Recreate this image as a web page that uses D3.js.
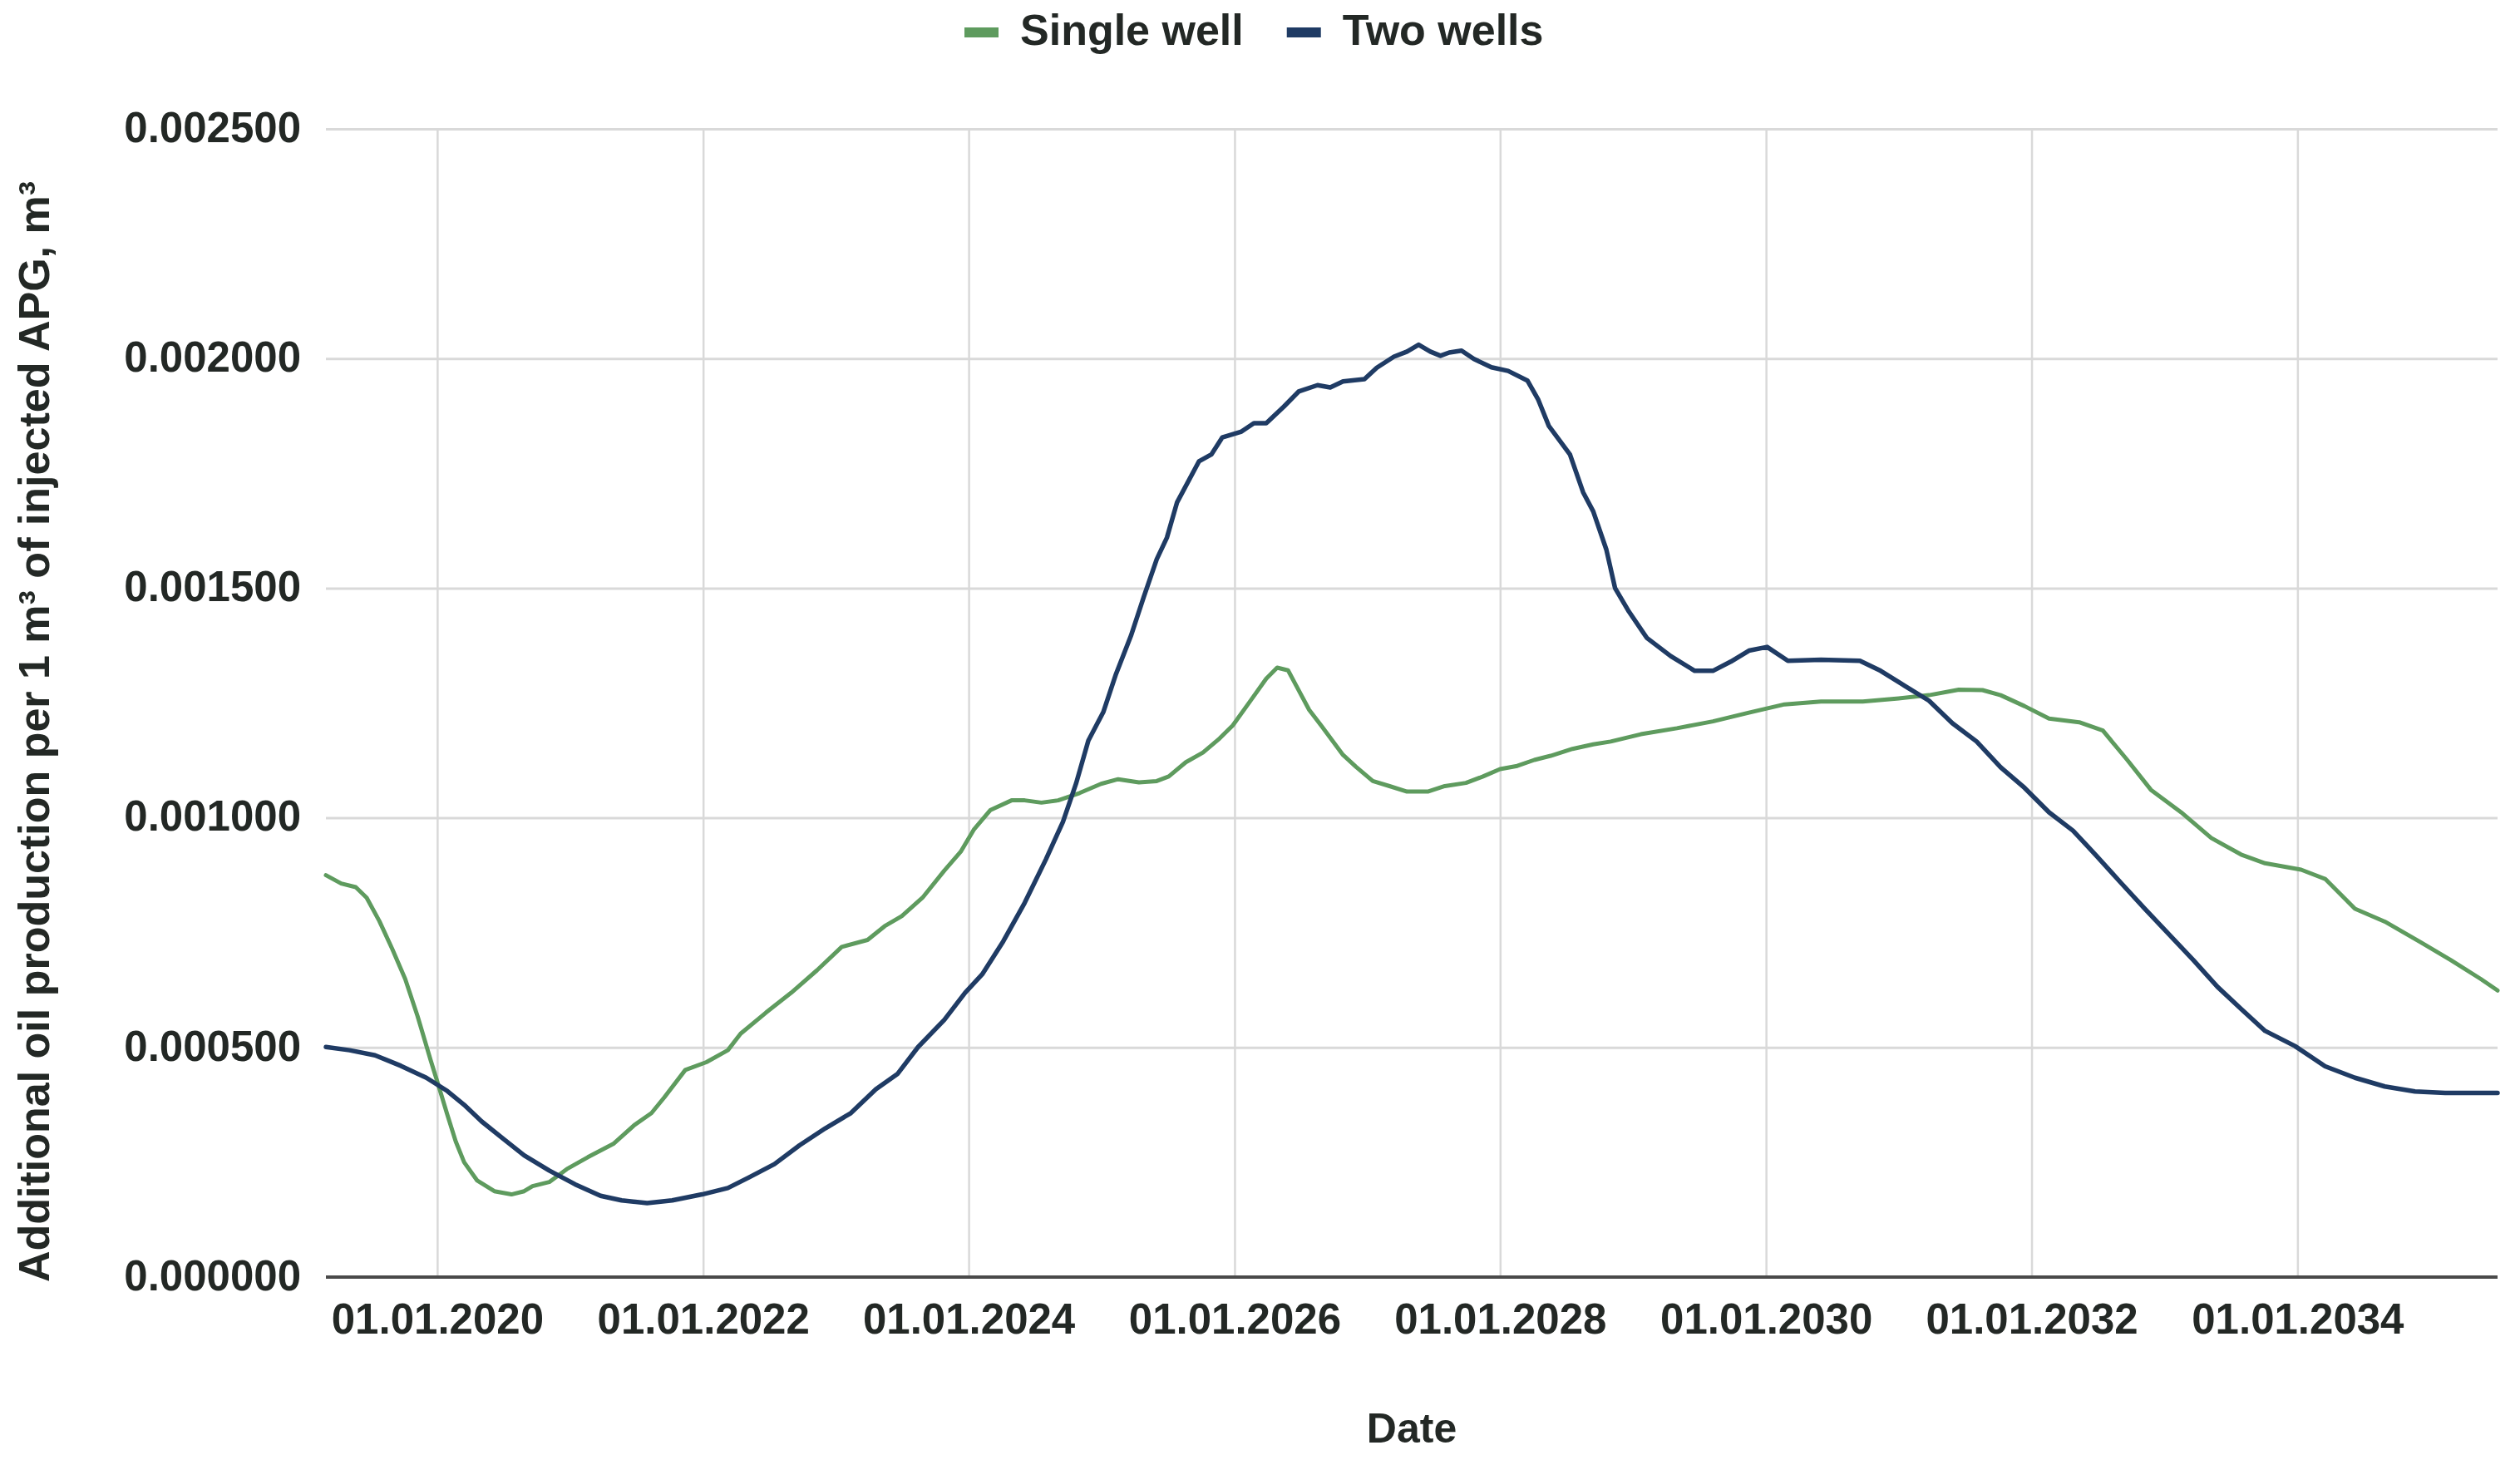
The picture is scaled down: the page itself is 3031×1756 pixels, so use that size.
<!DOCTYPE html>
<html>
<head>
<meta charset="utf-8">
<script src="https://cdn.jsdelivr.net/npm/d3@7"></script>
<style>
  html, body { margin: 0; padding: 0; background: #ffffff; }
  svg { display: block; }
  text { font-family: "Liberation Sans", Arial, "DejaVu Sans", sans-serif; }
</style>
</head>
<body>
<svg id="chart"></svg>
<script>
// ---------- data ----------
const seriesNames = ["Single well", "Two wells"];
const seriesColors = ["#5e9b5e", "#1f3b64"];

const singleDates = [
  "2019-03-01","2019-04-12","2019-05-22","2019-06-21","2019-07-26","2019-08-30","2019-10-05","2019-11-08","2019-12-14",
  "2020-01-06","2020-01-29","2020-02-21","2020-03-15","2020-04-20","2020-06-06","2020-07-23","2020-08-27","2020-09-19",
  "2020-11-04","2020-12-22","2021-02-18","2021-04-29","2021-06-26","2021-08-12","2021-09-16","2021-11-13","2022-01-10",
  "2022-03-10","2022-04-14","2022-06-23","2022-08-31","2022-11-10","2023-01-17","2023-03-29","2023-05-15","2023-07-01",
  "2023-08-27","2023-10-26","2023-12-10","2024-01-15","2024-03-01","2024-04-28","2024-06-03","2024-07-19","2024-09-03",
  "2024-11-01","2024-12-30","2025-02-15","2025-04-13","2025-06-01","2025-07-04","2025-08-20","2025-10-06","2025-11-21",
  "2025-12-27","2026-02-12","2026-03-29","2026-04-28","2026-05-28","2026-06-20","2026-07-25","2026-08-29","2026-10-26",
  "2026-12-01","2027-01-16","2027-03-03","2027-04-20","2027-06-16","2027-08-02","2027-09-29","2027-11-15","2028-01-01",
  "2028-02-17","2028-04-04","2028-05-19","2028-07-18","2028-09-13","2028-10-31","2029-01-22","2029-05-01","2029-08-08",
  "2029-11-15","2030-02-21","2030-06-01","2030-09-24","2031-01-01","2031-03-25","2031-06-15","2031-08-19","2031-10-08",
  "2031-12-13","2032-02-18","2032-05-11","2032-07-15","2032-09-20","2032-11-24","2033-02-15","2033-05-09","2033-07-30",
  "2033-10-04","2034-01-11","2034-03-18","2034-06-08","2034-08-29","2034-12-06","2035-02-27","2035-05-20","2035-07-05"
];
const singleValues = [
  0.000875,0.000857,0.000849,0.000826,0.000775,0.000715,0.000649,0.000568,0.000472,
  0.000413,0.000353,0.000295,0.000250,0.000210,0.000187,0.000180,0.000187,0.000198,
  0.000207,0.000235,0.000261,0.000290,0.000331,0.000357,0.000391,0.000451,0.000468,
  0.000494,0.000530,0.000576,0.000619,0.000668,0.000719,0.000734,0.000764,0.000786,
  0.000826,0.000885,0.000926,0.000974,0.001017,0.001038,0.001038,0.001033,0.001038,
  0.001054,0.001074,0.001084,0.001077,0.001080,0.001090,0.001121,0.001142,0.001173,
  0.001201,0.001253,0.001303,0.001327,0.001321,0.001287,0.001235,0.001199,0.001137,
  0.001111,0.001080,0.001069,0.001057,0.001057,0.001069,0.001076,0.001090,0.001106,
  0.001113,0.001126,0.001135,0.001150,0.001160,0.001166,0.001182,0.001195,0.001210,
  0.001229,0.001247,0.001253,0.001253,0.001260,0.001267,0.001279,0.001278,0.001267,
  0.001243,0.001216,0.001208,0.001190,0.001126,0.001061,0.001012,0.000956,0.000920,
  0.000901,0.000887,0.000867,0.000802,0.000774,0.000729,0.000690,0.000649,0.000624
];

const twoDates = [
  "2019-03-01","2019-05-05","2019-07-14","2019-09-23","2019-12-02","2020-01-29","2020-03-15","2020-05-02","2020-06-29",
  "2020-08-27","2020-11-04","2021-01-14","2021-03-25","2021-05-22","2021-07-31","2021-10-08","2021-12-29","2022-03-10",
  "2022-05-07","2022-07-16","2022-09-23","2022-12-03","2023-02-11","2023-04-21","2023-06-19","2023-08-15","2023-10-26",
  "2023-12-22","2024-02-07","2024-04-05","2024-06-03","2024-07-31","2024-09-16","2024-10-22","2024-11-25","2025-01-05",
  "2025-02-09","2025-03-22","2025-04-26","2025-06-01","2025-06-29","2025-07-27","2025-09-25","2025-10-29","2025-11-28",
  "2026-01-20","2026-02-23","2026-03-29","2026-05-16","2026-06-26","2026-08-17","2026-09-21","2026-10-26","2026-12-24",
  "2027-01-27","2027-03-15","2027-04-20","2027-05-22","2027-06-23","2027-07-21","2027-08-14","2027-09-17","2027-10-21",
  "2027-12-08","2028-01-23","2028-03-16","2028-04-15","2028-05-14","2028-07-11","2028-08-16","2028-09-13","2028-10-19",
  "2028-11-12","2028-12-20","2029-02-07","2029-04-14","2029-06-19","2029-08-08","2029-09-26","2029-11-15","2030-01-04",
  "2030-03-02","2030-06-01","2030-09-16","2030-11-12","2031-01-18","2031-03-25","2031-05-28","2031-08-03","2031-10-08",
  "2031-12-13","2032-02-18","2032-04-24","2032-06-29","2032-09-02","2032-11-07","2033-01-13","2033-03-21","2033-05-26",
  "2033-07-30","2033-10-04","2033-12-25","2034-03-18","2034-06-08","2034-08-29","2034-11-20","2035-02-11","2035-07-05"
];
const twoValues = [
  0.000501,0.000494,0.000483,0.000460,0.000434,0.000405,0.000375,0.000339,0.000302,
  0.000265,0.000232,0.000202,0.000177,0.000167,0.000161,0.000167,0.000180,0.000194,
  0.000217,0.000246,0.000287,0.000324,0.000357,0.000409,0.000442,0.000501,0.000560,
  0.000619,0.000659,0.000731,0.000815,0.000909,0.000991,0.001074,0.001168,0.001230,
  0.001313,0.001396,0.001480,0.001563,0.001610,0.001687,0.001776,0.001791,0.001828,
  0.001841,0.001859,0.001859,0.001895,0.001928,0.001942,0.001937,0.001950,0.001955,
  0.001980,0.002004,0.002015,0.002030,0.002015,0.002006,0.002013,0.002017,0.001999,
  0.001981,0.001973,0.001952,0.001910,0.001853,0.001791,0.001709,0.001667,0.001584,
  0.001500,0.001449,0.001392,0.001352,0.001320,0.001320,0.001340,0.001364,0.001372,
  0.001342,0.001344,0.001342,0.001320,0.001287,0.001255,0.001206,0.001166,0.001110,
  0.001065,0.001012,0.000972,0.000916,0.000859,0.000802,0.000746,0.000690,0.000632,
  0.000584,0.000536,0.000503,0.000459,0.000434,0.000415,0.000404,0.000401,0.000401
];

const yTickValues = [0, 0.0005, 0.001, 0.0015, 0.002, 0.0025];
const xTickYears = [2020, 2022, 2024, 2026, 2028, 2030, 2032, 2034];
const xTitle = "Date";
const yTitle = "Additional oil production per 1 m³ of injected APG, m³";

// ---------- layout ----------
const W = 3031, H = 1756;
const M = { left: 392, right: 3004, top: 155, bottom: 1536 };
const textColor = "#232825";
const fontSize = 50;

const parse = d3.timeParse("%Y-%m-%d");
const series = [
  { name: seriesNames[0], color: seriesColors[0], width: 5, pts: singleDates.map((d, i) => ({ date: parse(d), v: singleValues[i] })) },
  { name: seriesNames[1], color: seriesColors[1], width: 5.5, pts: twoDates.map((d, i) => ({ date: parse(d), v: twoValues[i] })) }
];

const allDates = series.flatMap(s => s.pts.map(p => p.date));
const x = d3.scaleTime().domain(d3.extent(allDates)).range([M.left, M.right]);
const y = d3.scaleLinear().domain([0, 0.0025]).range([M.bottom, M.top]);

const svg = d3.select("#chart").attr("width", W).attr("height", H);
svg.append("rect").attr("width", W).attr("height", H).attr("fill", "#ffffff");

// horizontal gridlines + y tick labels
const yAxis = d3.axisLeft(y).tickValues(yTickValues).tickFormat(d3.format(".6f"))
  .tickSize(-(M.right - M.left)).tickPadding(30);
const gy = svg.append("g").attr("transform", `translate(${M.left},0)`).call(yAxis);
gy.select(".domain").remove();
gy.selectAll(".tick line").attr("stroke", "#d9d9d9").attr("stroke-width", 3);
gy.selectAll(".tick text").attr("fill", textColor).attr("font-size", fontSize + 1)
  .attr("font-weight", "bold").attr("dy", "0.3em")
  .style("font-family", '"Liberation Sans", Arial, sans-serif');

// vertical gridlines + x tick labels
const xTickDates = xTickYears.map(yr => new Date(yr, 0, 1));
const xAxis = d3.axisBottom(x).tickValues(xTickDates).tickFormat(d3.timeFormat("%d.%m.%Y"))
  .tickSize(-(M.bottom - M.top)).tickPadding(32);
const gx = svg.append("g").attr("transform", `translate(0,${M.bottom})`).call(xAxis);
gx.select(".domain").remove();
gx.selectAll(".tick line").attr("stroke", "#d9d9d9").attr("stroke-width", 2.5);
gx.selectAll(".tick text").attr("fill", textColor).attr("font-size", fontSize + 1)
  .attr("font-weight", "bold")
  .style("font-family", '"Liberation Sans", Arial, sans-serif');

// baseline (zero axis)
svg.append("line")
  .attr("x1", M.left).attr("x2", M.right)
  .attr("y1", y(0)).attr("y2", y(0))
  .attr("stroke", "#4a4a4a").attr("stroke-width", 4);

// lines
const line = d3.line().x(d => x(d.date)).y(d => y(d.v)).curve(d3.curveLinear);
svg.append("g").selectAll("path").data(series).join("path")
  .attr("d", s => line(s.pts))
  .attr("fill", "none")
  .attr("stroke", s => s.color)
  .attr("stroke-width", s => s.width)
  .attr("stroke-linejoin", "round")
  .attr("stroke-linecap", "round");

// axis titles
svg.append("text")
  .attr("x", (M.left + M.right) / 2).attr("y", 1735)
  .attr("text-anchor", "middle").attr("fill", textColor)
  .attr("font-size", fontSize).attr("font-weight", "bold")
  .text(xTitle);

svg.append("text")
  .attr("transform", `translate(59,880) rotate(-90)`)
  .attr("text-anchor", "middle").attr("fill", textColor)
  .attr("font-size", 52).attr("font-weight", "bold")
  .text(yTitle);

// legend
const legend = svg.append("g");
let lx = 1160;
series.forEach(s => {
  legend.append("rect").attr("x", lx).attr("y", 33).attr("width", 41).attr("height", 12).attr("fill", s.color);
  const t = legend.append("text").attr("x", lx + 67).attr("y", 54)
    .attr("fill", textColor).attr("font-size", 52).attr("font-weight", "bold")
    .text(s.name);
  lx = lx + 67 + t.node().getComputedTextLength() + 52;
});
</script>
</body>
</html>
